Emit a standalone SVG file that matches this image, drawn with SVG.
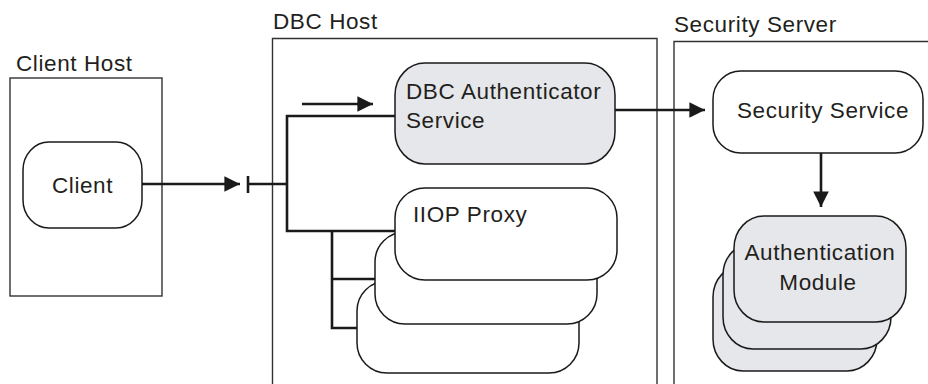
<svg xmlns="http://www.w3.org/2000/svg" width="928" height="384" viewBox="0 0 928 384">
<defs>
<style>
.box{fill:none;stroke:#333;stroke-width:1.4}
.node{fill:#fff;stroke:#1a1a1a;stroke-width:1.5}
.gray{fill:#e6e7ea;stroke:#1a1a1a;stroke-width:1.5}
.con{fill:none;stroke:#1a1a1a;stroke-width:2.6}
text{font-family:"Liberation Sans",Arial,sans-serif;font-size:22.5px;letter-spacing:0.6px;fill:#231f20}
</style>
<marker id="ah" viewBox="0 0 10 10" refX="10" refY="5" markerWidth="7" markerHeight="6" markerUnits="strokeWidth" orient="auto">
<path d="M0,0 L10,5 L0,10 z" fill="#1a1a1a"/>
</marker>
</defs>
<rect width="928" height="384" fill="#fff"/>
<g id="client-host">
<rect class="box" x="10" y="78" width="152" height="218"/>
<text x="16" y="71">Client Host</text>
</g>
<g id="dbc-host">
<path class="box" d="M272.5,390 V38.5 H657 V390"/>
<text x="273" y="29">DBC Host</text>
</g>
<g id="security-server">
<path class="box" d="M674,390 V41.5 H940"/>
<text x="674" y="32">Security Server</text>
</g>
<g id="client">
<rect class="node" x="23" y="142" width="119" height="86" rx="26" ry="28"/>
<text x="82.5" y="193" text-anchor="middle">Client</text>
</g>
<g id="dbc-authenticator">
<rect class="gray" x="395" y="63" width="220" height="101" rx="30" ry="32"/>
<text x="406" y="99">DBC Authenticator</text>
<text x="406" y="128">Service</text>
</g>
<g id="iiop-proxy">
<rect class="node" x="357" y="281" width="222" height="92" rx="30" ry="30"/>
<rect class="node" x="375" y="232" width="222" height="92" rx="30" ry="30"/>
<rect class="node" x="395" y="188" width="222" height="92" rx="30" ry="30"/>
<text x="413" y="222">IIOP Proxy</text>
</g>
<g id="security-service">
<rect class="node" x="713" y="71" width="210" height="82" rx="28" ry="28"/>
<text x="823" y="118" text-anchor="middle">Security Service</text>
</g>
<g id="authentication-module">
<rect class="gray" x="713" y="265" width="164" height="106" rx="30" ry="32"/>
<rect class="gray" x="723" y="243" width="168" height="106" rx="30" ry="32"/>
<rect class="gray" x="734" y="216" width="172" height="106" rx="30" ry="32"/>
<text x="820" y="260" text-anchor="middle">Authentication</text>
<text x="818" y="290" text-anchor="middle">Module</text>
</g>
<g id="connectors">
<line class="con" x1="142" y1="184" x2="240" y2="184" marker-end="url(#ah)"/>
<line class="con" x1="248" y1="176" x2="248" y2="193"/>
<line class="con" x1="248" y1="184" x2="287" y2="184"/>
<path class="con" d="M395,116 H287 V231 H395"/>
<path class="con" d="M332,231 V328 H357"/>
<line class="con" x1="332" y1="279" x2="375" y2="279"/>
<line class="con" x1="302" y1="104" x2="373" y2="104" marker-end="url(#ah)"/>
<line class="con" x1="615" y1="110" x2="705" y2="110" marker-end="url(#ah)"/>
<line class="con" x1="821" y1="153" x2="821" y2="207" marker-end="url(#ah)"/>
</g>
</svg>
